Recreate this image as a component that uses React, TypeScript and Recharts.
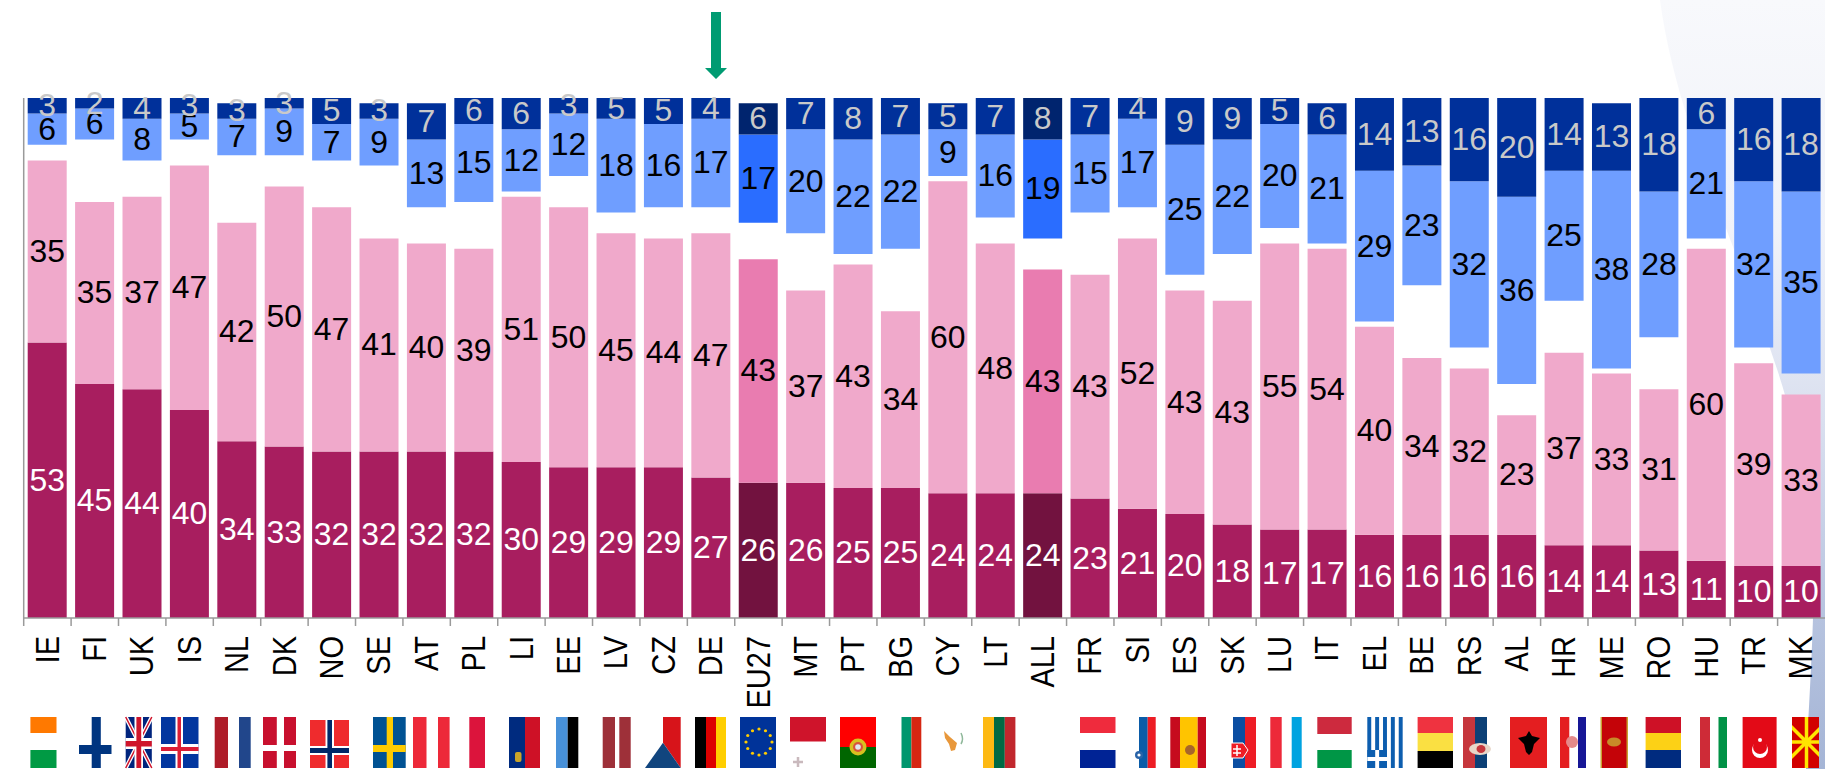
import { BarChart, Bar, XAxis, YAxis, Cell, LabelList } from "recharts";

const countries = ["IE","FI","UK","IS","NL","DK","NO","SE","AT","PL","LI","EE","LV","CZ","DE","EU27","MT","PT","BG","CY","LT","ALL","FR","SI","ES","SK","LU","IT","EL","BE","RS","AL","HR","ME","RO","HU","TR","MK"];
const totallyPos = [53,45,44,40,34,33,32,32,32,32,30,29,29,29,27,26,26,25,25,24,24,24,23,21,20,18,17,17,16,16,16,16,14,14,13,11,10,10];
const ratherPos = [35,35,37,47,42,50,47,41,40,39,51,50,45,44,47,43,37,43,34,60,48,43,43,52,43,43,55,54,40,34,32,23,37,33,31,60,39,33];
const ratherNeg = [6,6,8,5,7,9,7,9,13,15,12,12,18,16,17,17,20,22,22,9,16,19,15,17,25,22,20,21,29,23,32,36,25,38,28,21,32,35];
const totallyNeg = [3,2,4,3,3,3,5,3,7,6,6,3,5,5,4,6,7,8,7,5,7,8,7,4,9,9,5,6,14,13,16,20,14,13,18,6,16,18];
// printed labels are rounded: these are the lengths the top segments are really drawn with
const totallyNegDrawn = [3,2,4,3,3,2,5,3,7,5,6,3,4,5,4,6,6,8,7,5,7,8,7,4,9,8,5,6,14,13,16,19,14,13,18,6,16,18];
const dontKnow = [3,12,7,5,13,6,9,14,7,9,1,6,4,6,5,7,11,2,12,1,5,6,12,6,3,9,3,1,1,14,4,6,10,1,10,2,3,4];
const highlighted = ["EU27", "ALL"];
const yTicks = [0,10,20,30,40,50,60,70,80,90,100];

const data = countries.map((c, i) => ({
  c,
  totallyPos: totallyPos[i],
  ratherPos: ratherPos[i],
  dontKnow: dontKnow[i],
  ratherNeg: ratherNeg[i],
  totallyNeg: totallyNeg[i],
  totallyNegDrawn: totallyNegDrawn[i],
}));

const FONT = "'Liberation Sans', Arial, sans-serif";
const AXIS = "#9a9a9a";
const LEFT = 23.7;
const STEP = (1825 - LEFT) / countries.length;
const BASE_Y = 618;

function CountryTick(props: any) {
  const { x, payload } = props;
  return (
    <g>
      <line x1={x - STEP / 2} x2={x - STEP / 2} y1={BASE_Y} y2={BASE_Y + 8} stroke={AXIS} strokeWidth={1.5} />
      <text
        transform={`translate(${x} 636) scale(1.14 1) rotate(-90)`}
        textAnchor="end"
        dominantBaseline="central"
        fontFamily={FONT}
        fontSize={29}
        fill="#000"
      >
        {payload.value}
      </text>
    </g>
  );
}

function segLabel(color: string) {
  return (p: any) => {
    const box = p.viewBox ?? p;
    const cx = box.x + box.width / 2;
    const cy = box.y + box.height / 2;
    return (
      <text
        transform={`translate(${cx} ${cy}) scale(1.03 1)`}
        textAnchor="middle"
        dominantBaseline="central"
        fontFamily={FONT}
        fontSize={31}
        fill={color}
      >
        {p.value}
      </text>
    );
  };
}

const lower = [
  { key: "totallyPos", labelKey: "totallyPos", fill: "#a81e5f", strong: "#72123f", text: "#ffffff" },
  { key: "ratherPos", labelKey: "ratherPos", fill: "#f0a9cb", strong: "#e97cb0", text: "#000000" },
];
const upper = [
  { key: "ratherNeg", labelKey: "ratherNeg", fill: "#6f9eff", strong: "#2a6dff", text: "#000000" },
  { key: "totallyNegDrawn", labelKey: "totallyNeg", fill: "#00309a", strong: "#00246e", text: "#c9c9c9" },
];

const T = 717;
const B = 768;

function R({ x0, x1, y0 = T, y1 = B, f }: { x0: number; x1: number; y0?: number; y1?: number; f: string }) {
  return <rect x={x0} y={y0} width={x1 - x0} height={y1 - y0} fill={f} />;
}

const euStars = [0,30,60,90,120,150,180,210,240,270,300,330];
const mkRays = [0,45,90,135,180,225,270,315];
const elStripes = [0,2,4,6,8];

function Flags() {
  return (
    <svg width={1825} height={769} style={{ position: "absolute", left: 0, top: 0 }}>
      <defs>
        <clipPath id="mk"><rect x={1792} y={T} width={27} height={B - T} /></clipPath>
      </defs>
      {/* IE */}
      <R x0={30.4} x1={56.5} y1={733} f="#ff7900" />
      <R x0={30.4} x1={56.5} y0={750} f="#009a44" />
      {/* FI */}
      <R x0={91.7} x1={100.8} f="#003580" />
      <R x0={79} x1={111.5} y0={745} y1={754} f="#003580" />
      {/* UK */}
      <R x0={125.7} x1={151.8} f="#00247d" />
      <path d={`M125.7 ${T}L151.8 ${B}M151.8 ${T}L125.7 ${B}`} stroke="#fff" strokeWidth={4} />
      <path d={`M125.7 ${T}L151.8 ${B}M151.8 ${T}L125.7 ${B}`} stroke="#cf142b" strokeWidth={1.5} />
      <R x0={134.5} x1={143} f="#fff" />
      <R x0={125.7} x1={151.8} y0={738} y1={749} f="#fff" />
      <R x0={136.4} x1={141.2} f="#cf142b" />
      <R x0={125.7} x1={151.8} y0={741} y1={746.5} f="#cf142b" />
      {/* IS */}
      <R x0={161} x1={198.5} f="#02369f" />
      <R x0={175.5} x1={183} f="#fff" />
      <R x0={161} x1={198.5} y0={744} y1={754} f="#fff" />
      <R x0={177.5} x1={181} f="#dc1e35" />
      <R x0={161} x1={198.5} y0={747} y1={751} f="#dc1e35" />
      {/* NL */}
      <R x0={214.7} x1={228} f="#ae1c28" />
      <R x0={239} x1={250.7} f="#21468b" />
      {/* DK */}
      <R x0={263} x1={296} f="#c8102e" />
      <R x0={276.8} x1={284} f="#fff" />
      <R x0={263} x1={296} y0={745} y1={751} f="#fff" />
      {/* NO */}
      <R x0={310} x1={349} y0={720} f="#ef2b2d" />
      <R x0={325.5} x1={334} y0={720} f="#fff" />
      <R x0={310} x1={349} y0={746} y1={755} f="#fff" />
      <R x0={327.4} x1={332} y0={720} f="#002868" />
      <R x0={310} x1={349} y0={748} y1={753} f="#002868" />
      {/* SE */}
      <R x0={373} x1={405.7} f="#005293" />
      <R x0={386.7} x1={393} f="#fecb00" />
      <R x0={373} x1={405.7} y0={745} y1={752} f="#fecb00" />
      {/* AT */}
      <R x0={413} x1={426.5} f="#ed2939" />
      <R x0={438} x1={449.6} f="#ed2939" />
      {/* PL */}
      <R x0={469.3} x1={485} f="#dc143c" />
      {/* LI */}
      <R x0={509} x1={525} f="#002b7f" />
      <R x0={525} x1={540} f="#ce1126" />
      <rect x={515} y={752} width={6.5} height={10} rx={2} fill="#c9a42a" />
      {/* EE */}
      <R x0={556} x1={567.7} f="#4891d9" />
      <R x0={567.7} x1={578.3} f="#000" />
      {/* LV */}
      <R x0={602.7} x1={615} f="#9e3039" />
      <R x0={619.3} x1={630.7} f="#9e3039" />
      {/* CZ */}
      <polygon points="663,717 680.7,717 680.7,768 663,742.7" fill="#d7141a" />
      <polygon points="663,742.7 680.7,768 645,768" fill="#11457e" />
      {/* DE */}
      <R x0={695} x1={706} f="#000" />
      <R x0={706} x1={716} f="#dd0000" />
      <R x0={716} x1={726} f="#ffce00" />
      {/* EU27 */}
      <R x0={740} x1={776} f="#003399" />
      {euStars.map((a) => (
        <circle key={a} cx={759 + 13 * Math.cos((a * Math.PI) / 180)} cy={742 + 13 * Math.sin((a * Math.PI) / 180)} r={1.6} fill="#ffcc00" />
      ))}
      {/* MT */}
      <R x0={790} x1={826} y1={741.5} f="#cf142b" />
      <path d="M798 757v10M793 762h10" stroke="#c9b9bd" strokeWidth={2.5} />
      {/* PT */}
      <R x0={840} x1={876} y1={747} f="#ff0000" />
      <R x0={840} x1={876} y0={747} f="#006600" />
      <circle cx={858} cy={747} r={8.5} fill="#d8c020" />
      <circle cx={858} cy={747} r={5} fill="#d9533b" />
      <circle cx={858} cy={747} r={2.8} fill="#dfe6f0" />
      {/* BG */}
      <R x0={901.5} x1={911.4} f="#00966e" />
      <R x0={911.4} x1={921.3} f="#d62612" />
      {/* CY */}
      <path d="M944 731L950 737L957 743L955 750L951 751L949 744L945 738Z" fill="#e8973a" />
      <path d="M961 733q3 6 0 11" stroke="#8fb89a" strokeWidth={1.5} fill="none" />
      {/* LT */}
      <R x0={983} x1={994} f="#fdb913" />
      <R x0={994} x1={1004.8} f="#006a44" />
      <R x0={1004.8} x1={1015.4} f="#c1272d" />
      {/* FR */}
      <R x0={1080} x1={1115.5} y1={733} f="#ef2b3d" />
      <R x0={1080} x1={1115.5} y0={750} f="#002395" />
      {/* SI */}
      <R x0={1139} x1={1147.7} f="#0b5ca8" />
      <R x0={1147.7} x1={1155.7} f="#ed1c24" />
      <circle cx={1139} cy={755} r={4} fill="#2a64a8" />
      <circle cx={1139} cy={755} r={1.6} fill="#fff" />
      {/* ES */}
      <R x0={1170.3} x1={1180} f="#c60b1e" />
      <R x0={1180} x1={1197.7} f="#ffc400" />
      <R x0={1197.7} x1={1206} f="#c60b1e" />
      <circle cx={1190} cy={750} r={5} fill="#a8652a" />
      {/* SK */}
      <R x0={1233} x1={1245} f="#0b4ea2" />
      <R x0={1245} x1={1256} f="#ee1c25" />
      <path d="M1231 743H1243L1248 750L1243 758H1231Z" fill="#ee1c25" stroke="#fff" strokeWidth={1} />
      <path d="M1237 745v11M1233 749h8M1233 753h8" stroke="#fff" strokeWidth={1.5} />
      {/* LU */}
      <R x0={1270.3} x1={1281.7} f="#ed2939" />
      <R x0={1291.7} x1={1301.7} f="#00a3e0" />
      {/* HU */}
      <R x0={1317.3} x1={1351.7} y1={734} f="#cd2a3e" />
      <R x0={1317.3} x1={1351.7} y0={750} f="#009646" />
      {/* EL */}
      {elStripes.map((n) => (
        <R key={n} x0={1367.3 + n * 3.93} x1={1367.3 + (n + 1) * 3.93} f="#0d5eaf" />
      ))}
      <R x0={1367.3} x1={1387} y0={750} f="#0d5eaf" />
      <R x0={1375.2} x1={1379.1} y0={750} f="#fff" />
      <R x0={1367.3} x1={1387} y0={757} y1={761} f="#fff" />
      {/* BE */}
      <R x0={1417.6} x1={1453} y1={733} f="#ef3340" />
      <R x0={1417.6} x1={1453} y0={733} y1={751} f="#fae042" />
      <R x0={1417.6} x1={1453} y0={751} f="#000" />
      {/* RS */}
      <R x0={1463} x1={1475} f="#c6363c" />
      <R x0={1475} x1={1487} f="#0c4076" />
      <ellipse cx={1480} cy={749} rx={11} ry={6} fill="#e8d6c8" />
      <ellipse cx={1481} cy={749} rx={4.5} ry={4} fill="#c6363c" />
      {/* AL */}
      <R x0={1510} x1={1547} f="#e41e20" />
      <path d="M1518 738L1526 736L1529 731L1532 736L1540 738L1534 744L1532 752L1529 755L1526 752L1524 744Z" fill="#000" />
      {/* HR */}
      <R x0={1560} x1={1569.3} f="#e41e20" />
      <R x0={1578} x1={1586} f="#171796" />
      <circle cx={1572} cy={742} r={6} fill="#e58a8a" />
      {/* ME */}
      <R x0={1600.5} x1={1628} f="#c8a030" />
      <R x0={1602} x1={1626.5} f="#c40308" />
      <ellipse cx={1614} cy={742} rx={7} ry={4.5} fill="#c88a28" />
      {/* RO */}
      <R x0={1645.6} x1={1681} y1={733} f="#ce1126" />
      <R x0={1645.6} x1={1681} y0={733} y1={750} f="#fcd116" />
      <R x0={1645.6} x1={1681} y0={750} f="#002b7f" />
      {/* IT */}
      <R x0={1700} x1={1710} f="#ce2b37" />
      <R x0={1718.5} x1={1727} f="#009246" />
      {/* TR */}
      <R x0={1742.6} x1={1776.6} f="#e30a17" />
      <circle cx={1760} cy={750} r={8} fill="#fff" />
      <circle cx={1760} cy={747} r={7} fill="#e30a17" />
      <circle cx={1760} cy={740} r={2} fill="#fff" />
      {/* MK */}
      <R x0={1792} x1={1819} f="#d20000" />
      <g clipPath="url(#mk)">
        {mkRays.map((a) => (
          <line
            key={a}
            x1={1806.5}
            y1={742}
            x2={1806.5 + 30 * Math.cos((a * Math.PI) / 180)}
            y2={742 + 30 * Math.sin((a * Math.PI) / 180)}
            stroke="#ffe600"
            strokeWidth={3.5}
          />
        ))}
      </g>
      <circle cx={1806.5} cy={742} r={4.5} fill="#ffe600" />
      {/* arrow over DE */}
      <path d="M711 12H721V68H727L716 79L705 68H711Z" fill="#009b72" />
    </svg>
  );
}

export default function App() {
  return (
    <div style={{ position: "absolute", left: 0, top: 0, width: 1825, height: 769, overflow: "hidden", background: "#fff" }}>
      <svg width={1825} height={769} style={{ position: "absolute", left: 0, top: 0 }}>
        <defs>
          <linearGradient id="swoosh" x1="0" y1="0" x2="0" y2="1">
            <stop offset="0" stopColor="#f8f9fc" />
            <stop offset="0.3" stopColor="#f0f2f9" />
            <stop offset="0.55" stopColor="#d9dfef" />
            <stop offset="0.8" stopColor="#b6c3df" />
            <stop offset="1" stopColor="#a5b5d6" />
          </linearGradient>
        </defs>
        <path d="M1660 0C1676 120 1735 240 1778 372C1800 440 1820 540 1813 618C1811 680 1808 720 1806 769H1825V0Z" fill="url(#swoosh)" />
      </svg>
      <div style={{ position: "absolute", left: 0, top: 0 }}>
        <BarChart
          width={1825}
          height={769}
          data={data}
          margin={{ top: 98, right: 0, bottom: 150, left: 0 }}
          barSize={39}
        >
          <YAxis
            width={LEFT}
            type="number"
            domain={[0, 100]}
            ticks={yTicks}
            tick={false}
            tickSize={13}
            stroke={AXIS}
            strokeWidth={1.5}
          />
          <XAxis
            dataKey="c"
            height={1}
            interval={0}
            tickLine={false}
            tick={<CountryTick />}
            stroke={AXIS}
            strokeWidth={1.5}
          />
          {lower.map((s) => (
            <Bar key={s.key} dataKey={s.key} stackId="a" fill={s.fill} isAnimationActive={false}>
              {data.map((d) => (
                <Cell key={d.c} fill={highlighted.includes(d.c) ? s.strong : s.fill} />
              ))}
              <LabelList dataKey={s.labelKey} content={segLabel(s.text)} />
            </Bar>
          ))}
          <Bar dataKey="dontKnow" stackId="a" fill="none" isAnimationActive={false} />
          {upper.map((s) => (
            <Bar key={s.key} dataKey={s.key} stackId="a" fill={s.fill} isAnimationActive={false}>
              {data.map((d) => (
                <Cell key={d.c} fill={highlighted.includes(d.c) ? s.strong : s.fill} />
              ))}
              <LabelList dataKey={s.labelKey} content={segLabel(s.text)} />
            </Bar>
          ))}
        </BarChart>
      </div>
      <Flags />
    </div>
  );
}
